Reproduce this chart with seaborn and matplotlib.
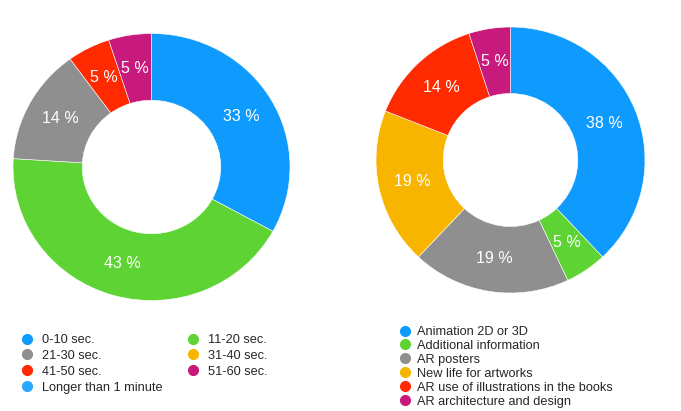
import matplotlib
matplotlib.use("Agg")
import matplotlib.pyplot as plt
import seaborn as sns
from matplotlib.lines import Line2D

sns.set_theme(style="white")
plt.rcParams['font.family'] = ['Liberation Sans', 'DejaVu Sans']

# Left chart: viewing time
time_labels = ["0-10 sec.", "11-20 sec.", "21-30 sec.", "31-40 sec.",
               "41-50 sec.", "51-60 sec.", "Longer than 1 minute"]
time_values = [33, 43, 14, 0, 5, 5, 0]
time_colors = ["#0F9BFD", "#5DD433", "#8F8F8F", "#F7B500",
               "#FF2A00", "#C8197C", "#2AA8FF"]

# Right chart: preferred AR content
content_labels = ["Animation 2D or 3D", "Additional information", "AR posters",
                  "New life for artworks", "AR use of illustrations in the books",
                  "AR architecture and design"]
content_values = [38, 5, 19, 19, 14, 5]
content_colors = ["#0F9BFD", "#5DD433", "#8F8F8F", "#F7B500", "#FF2A00", "#C8197C"]

W, H = 681, 411
fig = plt.figure(figsize=(W / 100, H / 100), dpi=100)
fig.patch.set_facecolor("white")


def donut(cx, cy, rx, ry, values, colors):
    ax = fig.add_axes([(cx - rx) / W, (H - cy - ry) / H, 2 * rx / W, 2 * ry / H])
    vals = [v for v in values if v > 0]
    cols = [c for v, c in zip(values, colors) if v > 0]
    wedges, texts = ax.pie(vals, colors=cols, startangle=90, counterclock=False,
                           radius=1.0, labels=[f"{v} %" for v in vals],
                           labeldistance=0.75,
                           wedgeprops=dict(width=0.5, edgecolor="white", linewidth=0.4),
                           textprops=dict(color="white", fontsize=11.5))
    for t in texts:
        t.set_horizontalalignment("center")
        t.set_verticalalignment("center")
    ax.set_aspect("auto")
    ax.set_xlim(-1, 1)
    ax.set_ylim(-1, 1)
    ax.axis("off")
    return ax


donut(151.5, 167, 138.5, 133.5, time_values, time_colors)
donut(510.5, 160, 134.5, 133, content_values, content_colors)


def handle(c):
    return Line2D([], [], linestyle="none", marker="o", markersize=7,
                  markerfacecolor=c, markeredgecolor=c)


FS = 9.2
fpx = FS * 100 / 72
# left legend, two columns (column-wise order)
order = [0, 2, 4, 6, 1, 3, 5]
fig.legend([handle(time_colors[i]) for i in order],
           [time_labels[i] for i in order],
           loc="upper left", bbox_to_anchor=((27 - fpx / 2) / W, 1 - 334 / H),
           ncol=2, frameon=False, fontsize=FS, borderpad=0, borderaxespad=0,
           handlelength=1, handletextpad=0.7, labelspacing=0.3,
           columnspacing=1.85)

fig.legend([handle(c) for c in content_colors], content_labels,
           loc="upper left", bbox_to_anchor=((405 - fpx / 2) / W, 1 - 326 / H),
           ncol=1, frameon=False, fontsize=FS, borderpad=0, borderaxespad=0,
           handlelength=1, handletextpad=0.45, labelspacing=0.15)

fig.savefig("out.png", dpi=100, facecolor="white")
